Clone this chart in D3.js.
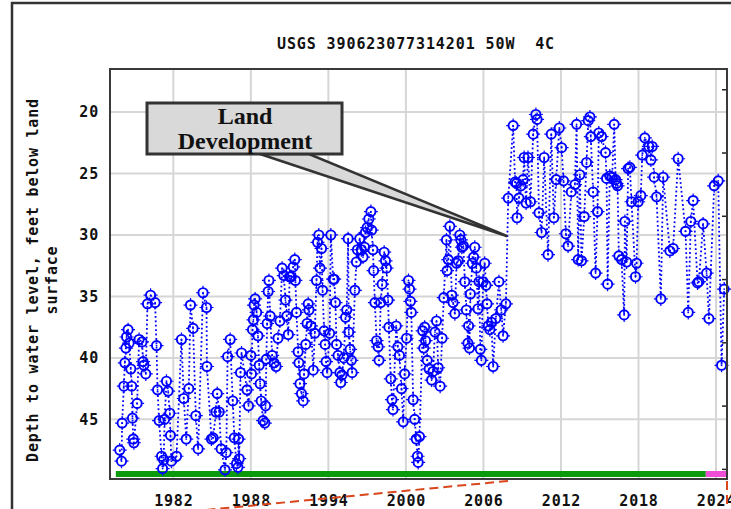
<!DOCTYPE html>
<html>
<head>
<meta charset="utf-8">
<script src="https://cdn.jsdelivr.net/npm/d3@7"></script>
<style>
body { margin: 0; background: #fff; }
svg { display: block; }
</style>
</head>
<body>
<script>
var width = 731;
var height = 509;

var title = "USGS 390623077314201 50W  4C";
var yLabel1 = "Depth to water level, feet below land";
var yLabel2 = "surface";
var xTicks = [1982, 1988, 1994, 2000, 2006, 2012, 2018, 2024];
var yTicks = [20, 25, 30, 35, 40, 45];
var rightTicks = [410, 405, 400, 395, 390, 385, 380];

// measurement dates (decimal years) and depths (ft below land surface)
var years = [
  1977.85, 1977.99, 1978.04, 1978.17, 1978.25, 1978.33, 1978.38, 1978.50, 1978.58, 1978.71,
  1978.78, 1978.84, 1978.90, 1978.95, 1979.20, 1979.35, 1979.58, 1979.66, 1979.72, 1979.87,
  1980.00, 1980.24, 1980.59, 1980.70, 1980.78, 1980.90, 1981.09, 1981.17, 1981.25, 1981.33,
  1981.47, 1981.60, 1981.73, 1981.78, 1981.85, 1982.25, 1982.63, 1982.81, 1983.00, 1983.20,
  1983.33, 1983.53, 1983.74, 1983.92, 1984.30, 1984.57, 1984.60, 1984.95, 1985.08, 1985.30,
  1985.40, 1985.55, 1985.70, 1986.00, 1986.10, 1986.20, 1986.40, 1986.60, 1986.72, 1986.89,
  1987.00, 1987.05, 1987.10, 1987.20, 1987.28, 1987.70, 1987.82, 1988.00, 1988.05, 1988.13,
  1988.20, 1988.25, 1988.33, 1988.45, 1988.55, 1988.65, 1988.72, 1988.80, 1988.95, 1989.08,
  1989.14, 1989.20, 1989.26, 1989.34, 1989.40, 1989.50, 1989.65, 1989.80, 1989.95, 1990.10,
  1990.25, 1990.42, 1990.55, 1990.68, 1990.78, 1990.90, 1991.00, 1991.12, 1991.28, 1991.40,
  1991.45, 1991.53, 1991.66, 1991.72, 1991.80, 1991.92, 1992.05, 1992.12, 1992.25, 1992.35,
  1992.44, 1992.50, 1992.65, 1992.83, 1992.95, 1993.08, 1993.16, 1993.26, 1993.35, 1993.47,
  1993.55, 1993.67, 1993.75, 1993.82, 1993.90, 1994.10, 1994.19, 1994.37, 1994.45, 1994.55,
  1994.63, 1994.75, 1994.89, 1994.96, 1995.05, 1995.20, 1995.33, 1995.42, 1995.53, 1995.58,
  1995.68, 1995.78, 1995.84, 1996.05, 1996.17, 1996.25, 1996.43, 1996.55, 1996.68, 1996.80,
  1996.87, 1997.00, 1997.13, 1997.29, 1997.35, 1997.45, 1997.50, 1997.60, 1997.73, 1997.85,
  1997.92, 1998.05, 1998.16, 1998.32, 1998.42, 1998.50, 1998.62, 1998.68, 1998.83, 1998.92,
  1999.00, 1999.25, 1999.38, 1999.50, 1999.66, 1999.79, 1999.90, 2000.05, 2000.20, 2000.28,
  2000.35, 2000.42, 2000.56, 2000.68, 2000.80, 2000.90, 2000.95, 2001.05, 2001.30, 2001.38,
  2001.45, 2001.52, 2001.65, 2001.80, 2001.99, 2002.10, 2002.25, 2002.37, 2002.50, 2002.65,
  2002.80, 2002.93, 2003.14, 2003.19, 2003.28, 2003.40, 2003.55, 2003.65, 2003.79, 2003.92,
  2004.05, 2004.17, 2004.25, 2004.33, 2004.45, 2004.56, 2004.68, 2004.80, 2004.85, 2004.92,
  2004.99, 2005.14, 2005.24, 2005.33, 2005.45, 2005.58, 2005.66, 2005.76, 2005.84, 2005.97,
  2006.10, 2006.20, 2006.28, 2006.38, 2006.50, 2006.62, 2006.75, 2006.96, 2007.20, 2007.38,
  2007.52, 2007.74, 2007.92, 2008.30, 2008.45, 2008.56, 2008.60, 2008.75, 2008.90, 2009.07,
  2009.15, 2009.30, 2009.45, 2009.64, 2009.85, 2010.06, 2010.15, 2010.30, 2010.50, 2010.70,
  2011.00, 2011.25, 2011.45, 2011.63, 2011.87, 2012.05, 2012.20, 2012.38, 2012.55, 2012.80,
  2013.08, 2013.21, 2013.33, 2013.46, 2013.59, 2013.80, 2013.98, 2014.11, 2014.24, 2014.31,
  2014.49, 2014.68, 2014.83, 2014.93, 2015.14, 2015.45, 2015.53, 2015.61, 2015.78, 2015.96,
  2016.12, 2016.23, 2016.30, 2016.38, 2016.48, 2016.69, 2016.89, 2016.95, 2017.08, 2017.20,
  2017.33, 2017.46, 2017.77, 2017.85, 2017.98, 2018.18, 2018.29, 2018.49, 2018.80, 2018.96,
  2019.06, 2019.21, 2019.40, 2019.73, 2019.91, 2020.43, 2020.68, 2021.07, 2021.64, 2021.85,
  2022.05, 2022.23, 2022.57, 2022.67, 2023.00, 2023.27, 2023.45, 2023.86, 2024.17, 2024.43,
  2024.63
];
var depths = [
  47.5, 48.4, 45.3, 42.3, 40.4, 39.2, 38.3, 37.7, 38.8, 40.9,
  42.3, 44.9, 46.6, 46.9, 43.7, 38.5, 38.7, 40.3, 40.6, 41.3,
  35.6, 34.9, 35.5, 39.0, 42.6, 45.1, 48.0, 49.0, 48.3, 45.0,
  41.9, 42.7, 44.5, 46.3, 48.4, 48.0, 38.5, 43.3, 46.6, 42.5,
  35.7, 37.6, 44.7, 47.4, 34.7, 35.9, 40.7, 46.6, 46.5, 44.4,
  42.9, 44.4, 47.4, 49.1, 47.7, 39.9, 38.5, 43.5, 46.5, 48.6,
  48.9, 46.6, 48.2, 41.2, 39.6, 42.6, 43.9, 39.8, 41.3, 37.7,
  36.9, 35.7, 35.2, 36.3, 38.2, 40.6, 42.1, 43.5, 45.1, 45.3,
  43.9, 40.1, 37.2, 34.6, 33.7, 36.6, 39.8, 40.4, 40.7, 38.4,
  37.0, 32.7, 33.3, 35.3, 36.6, 38.1, 33.4, 33.4, 32.6, 32.0,
  33.7, 36.3, 39.5, 40.4, 42.1, 42.9, 43.5, 41.3, 38.9, 37.2,
  35.6, 36.1, 37.4, 41.0, 38.0, 33.7, 30.6, 30.0, 32.7, 31.1,
  34.5, 37.8, 38.9, 40.3, 41.2, 38.0, 30.0, 33.6, 33.6, 35.5,
  38.9, 39.8, 41.2, 42.0, 41.4, 40.0, 36.7, 36.1, 30.3, 37.9,
  39.3, 40.2, 41.2, 34.5, 32.2, 31.2, 30.3, 31.2, 31.8, 31.0,
  29.8, 29.4, 28.7, 28.1, 29.6, 31.2, 32.9, 35.5, 38.6, 39.1,
  40.2, 35.5, 34.0, 31.4, 32.1, 32.7, 35.3, 37.5, 41.7, 43.4,
  44.2, 37.4, 39.1, 39.8, 42.5, 45.2, 41.3, 38.4, 33.7, 34.4,
  35.4, 36.3, 43.4, 45.0, 46.6, 48.0, 48.5, 46.4, 37.8, 39.2,
  37.5, 38.6, 40.2, 40.9, 41.8, 41.1, 37.9, 37.0, 40.8, 42.3,
  38.4, 35.1, 30.4, 32.9, 32.0, 29.3, 34.9, 35.5, 36.4, 32.3,
  32.1, 30.0, 30.4, 31.0, 30.9, 33.8, 36.1, 38.8, 37.4, 39.2,
  34.8, 32.3, 31.8, 31.0, 32.7, 36.0, 33.8, 39.3, 40.2, 33.8,
  32.3, 34.1, 35.6, 37.4, 37.7, 37.1, 40.7, 36.8, 33.8, 36.1,
  38.2, 35.6, 27.0, 21.1, 25.7, 25.8, 28.6, 27.0, 26.0, 25.5,
  23.7, 27.4, 23.7, 27.3, 21.8, 20.2, 20.6, 28.2, 29.8, 23.7,
  31.6, 21.8, 28.6, 25.5, 21.3, 22.9, 25.6, 29.9, 30.9, 26.5,
  25.9, 21.0, 32.0, 25.1, 32.1, 28.5, 24.1, 20.7, 20.4, 22.0,
  26.5, 33.1, 28.1, 21.7, 22.0, 23.3, 25.4, 34.0, 25.2, 25.3,
  21.0, 25.5, 25.8, 26.0, 31.7, 32.0, 36.5, 28.9, 32.2, 24.6,
  24.5, 27.3, 33.4, 32.3, 27.3, 26.8, 23.5, 22.1, 22.8, 23.9,
  22.8, 25.3, 26.9, 35.2, 25.3, 31.3, 31.1, 23.8, 29.7, 36.3,
  28.9, 27.2, 33.9, 33.8, 29.1, 33.1, 36.8, 26.0, 25.6, 40.6,
  34.4
];

// data-status bar at bottom: approved (green) then provisional (pink)
var statusStarts = [1977.55, 2023.21];
var statusEnds = [2023.21, 2024.85];
var statusColors = ["#0b9a0b", "#ee4fd6"];

var noteLines = ["Land", "Development"];
var noteYear = 2007.85;
var noteDepth = 30.1;

var points = years.map(function(d, i) { return [d, depths[i]]; });

var svg = d3.select("body")
  .append("svg")
  .attr("width", width)
  .attr("height", height);

var plotL = 110, plotR = 727, plotT = 69, plotB = 479;

var x = d3.scaleLinear().domain([1977.1, 2024.85]).range([plotL, plotR]);
var y = d3.scaleLinear().domain([16.5, 49.85]).range([plotT, plotB]);
var yRight = d3.scaleLinear().domain([411.6, 379.2]).range([plotT, plotB]);

// outer frame
svg.append("rect")
  .attr("x", 12).attr("y", 3)
  .attr("width", 760).attr("height", 560)
  .attr("fill", "none")
  .attr("stroke", "#333")
  .attr("stroke-width", 2.5);

svg.append("text")
  .attr("x", 416).attr("y", 49)
  .attr("text-anchor", "middle")
  .style("white-space", "pre")
  .attr("font-family", "DejaVu Sans Mono")
  .attr("font-weight", "bold")
  .attr("font-size", "15px")
  .attr("letter-spacing", "0.9px")
  .attr("fill", "#111")
  .text(title);

// grid
var grid = svg.append("g").attr("stroke", "#d6d6d6").attr("stroke-width", 2);
grid.selectAll(".vx").data(xTicks).enter().append("line")
  .attr("x1", d => x(d)).attr("x2", d => x(d))
  .attr("y1", plotT).attr("y2", plotB);
grid.selectAll(".hy").data(yTicks).enter().append("line")
  .attr("x1", plotL).attr("x2", plotR)
  .attr("y1", d => y(d)).attr("y2", d => y(d));

// axes (labels only)
var xAxis = svg.append("g")
  .attr("transform", `translate(0, ${plotB})`)
  .call(d3.axisBottom(x).tickValues(xTicks).tickFormat(d3.format("d")).tickSize(0).tickPadding(16));
var yAxis = svg.append("g")
  .attr("transform", `translate(${plotL}, 0)`)
  .call(d3.axisLeft(y).tickValues(yTicks).tickSize(0).tickPadding(11));
[xAxis, yAxis].forEach(function(a) {
  a.select(".domain").remove();
  a.selectAll("text")
    .attr("font-family", "DejaVu Sans Mono")
    .attr("font-weight", "bold")
    .attr("font-size", "15px")
    .attr("letter-spacing", "0.8px")
    .attr("fill", "#111");
});

// right side inward ticks
var rAxis = svg.append("g")
  .attr("transform", `translate(${plotR}, 0)`)
  .call(d3.axisLeft(yRight).tickValues(rightTicks).tickSize(5).tickFormat(""));
rAxis.select(".domain").remove();
rAxis.selectAll("line").attr("stroke", "#222").attr("stroke-width", 1.5);

// y axis title
[[yLabel1, 33], [yLabel2, 52]].forEach(function(l) {
  svg.append("text")
    .attr("transform", `translate(${l[1]}, 280) rotate(-90)`)
    .attr("text-anchor", "middle")
    .attr("dy", "0.35em")
    .attr("font-family", "DejaVu Sans Mono")
    .attr("font-weight", "bold")
    .attr("font-size", "15px")
    .attr("letter-spacing", "0.8px")
    .attr("fill", "#111")
    .text(l[0]);
});

// status bar
svg.selectAll(".status").data(statusStarts).enter().append("rect")
  .attr("x", d => x(d))
  .attr("width", (d, i) => x(statusEnds[i]) - x(d))
  .attr("y", 471).attr("height", 6)
  .attr("fill", (d, i) => statusColors[i]);

// data line
var line = d3.line().x(d => x(d[0])).y(d => y(d[1]));
svg.append("path")
  .datum(points)
  .attr("d", line)
  .attr("fill", "none")
  .attr("stroke", "#0000ff")
  .attr("stroke-width", 1.8)
  .attr("stroke-dasharray", "1.8,2.6");

// markers
var marks = svg.selectAll(".pt").data(points).enter().append("g")
  .attr("transform", d => `translate(${x(d[0])}, ${y(d[1])})`)
  .attr("stroke", "#0000ff")
  .attr("fill", "none");
marks.append("circle").attr("r", 4.6).attr("stroke-width", 1.9);
marks.append("circle").attr("r", 0.9).attr("fill", "#0000ff").attr("stroke", "none");
marks.append("path").attr("d", "M0,-5V-7M0,5V7M-5,0H-7M5,0H7").attr("stroke-width", 1.2);

// plot frame
svg.append("rect")
  .attr("x", plotL).attr("y", plotT)
  .attr("width", plotR - plotL).attr("height", plotB - plotT)
  .attr("fill", "none")
  .attr("stroke", "#3a3a3a")
  .attr("stroke-width", 2);

// callout
var tip = [x(noteYear), y(noteDepth)];
svg.append("path")
  .attr("d", `M260,154L309,154L${tip[0]},${tip[1]}Z`)
  .attr("fill", "#d9d9d9")
  .attr("stroke", "#333")
  .attr("stroke-width", 2.5);
svg.append("rect")
  .attr("x", 147).attr("y", 103)
  .attr("width", 195).attr("height", 51)
  .attr("fill", "#d9d9d9")
  .attr("stroke", "#333")
  .attr("stroke-width", 3);
svg.selectAll(".note").data(noteLines).enter().append("text")
  .attr("x", 245)
  .attr("y", (d, i) => 124 + i * 25)
  .attr("text-anchor", "middle")
  .attr("font-family", "Liberation Serif")
  .attr("font-weight", "bold")
  .attr("font-size", "24px")
  .attr("fill", "#111")
  .text(d => d);

// red dashed connector lines below the plot
var red = svg.append("g")
  .attr("stroke", "#d9461c")
  .attr("stroke-width", 2)
  .attr("stroke-dasharray", "9,5");
red.append("line")
  .attr("x1", x(2007.9)).attr("y1", 481)
  .attr("x2", 195).attr("y2", 511);
red.append("line")
  .attr("x1", x(2024.85)).attr("y1", 481)
  .attr("x2", x(2024.85)).attr("y2", 511);
</script>
</body>
</html>
